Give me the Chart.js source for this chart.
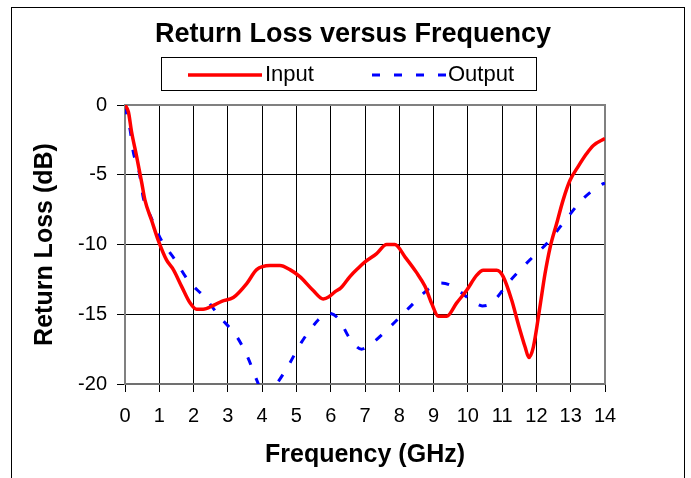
<!DOCTYPE html>
<html>
<head>
<meta charset="utf-8">
<script src="https://cdn.jsdelivr.net/npm/chart.js@4.4.0/dist/chart.umd.min.js"></script>
<style>
  html, body { margin: 0; padding: 0; background: #fff; }
  #wrap { width: 691px; height: 478px; }
</style>
</head>
<body>
<div id="wrap"><canvas id="rlChart" width="691" height="478"></canvas></div>
<script>
// Input return loss (red solid)
const freqIn = [0, 0.1, 0.19, 0.34, 0.49, 0.58, 0.78, 0.97, 1.21, 1.41, 1.65, 1.9, 2.09, 2.28, 2.58,
  2.82, 3.16, 3.55, 3.84, 4.23, 4.52, 4.81, 5.1, 5.49, 5.78, 5.95, 6.12, 6.3, 6.56, 6.8, 7.0, 7.34, 7.63,
  7.87, 8.17, 8.5, 8.75, 8.94, 9.14, 9.38, 9.67, 9.96, 10.26, 10.45, 10.84, 11.03, 11.28, 11.47, 11.67,
  11.78, 11.91, 12.1, 12.25, 12.4, 12.59, 12.78, 12.98, 13.22, 13.46, 13.66, 14.0];
const lossIn = [0, -0.5, -1.9, -3.7, -5.6, -6.8, -8.3, -9.7, -11.1, -11.8, -13.0, -14.2, -14.65, -14.65, -14.36,
  -14.07, -13.8, -12.8, -11.8, -11.5, -11.5, -11.8, -12.3, -13.3, -13.9, -13.75, -13.4, -13.1, -12.3, -11.7, -11.25, -10.65, -10.0,
  -10.0, -10.9, -12.0, -13.0, -14.2, -15.15, -15.15, -14.2, -13.3, -12.2, -11.85, -11.85, -12.3, -14.0, -15.7, -17.35,
  -18.1, -17.35, -14.5, -12.1, -10.2, -8.5, -6.8, -5.4, -4.4, -3.5, -2.9, -2.4];

// Output return loss (blue dashed)
const freqOut = [0, 0.15, 0.24, 0.42, 0.53, 0.75, 1.04, 1.46, 1.85, 2.33, 2.77, 3.26, 3.6, 3.84, 4.1, 4.42,
  4.76, 5.15, 5.64, 5.9, 6.22, 6.56, 6.9, 7.14, 7.73, 8.26, 8.85, 9.2, 9.48, 10.11, 10.42, 10.69, 11.23,
  11.81, 12.35, 12.83, 13.37, 13.9, 14.0];
const lossOut = [-0.1, -1.8, -3.35, -4.9, -6.6, -8.0, -9.6, -11.1, -12.6, -13.8, -15.2, -16.6, -18.2, -19.7, -21.0, -20.0,
  -18.7, -17.0, -15.4, -14.9, -15.3, -16.75, -17.5, -17.2, -15.9, -14.6, -13.2, -12.75, -12.9, -14.0, -14.4, -14.2, -12.6,
  -11.1, -9.8, -8.3, -6.7, -5.7, -5.6];

const xTickValues = [0, 1, 2, 3, 4, 5, 6, 7, 8, 9, 10, 11, 12, 13, 14];
const yTickValues = [0, -5, -10, -15, -20];

const seriesNames = ['Input', 'Output'];
const chartTitle = 'Return Loss versus Frequency';

const toPoints = (xs, ys) => xs.map((x, i) => ({ x: x, y: ys[i] }));

// frame, title, legend box and plot border
const decor = {
  id: 'decor',
  beforeDraw(chart) {
    const ctx = chart.ctx;
    ctx.save();
    ctx.fillStyle = '#fff';
    ctx.fillRect(0, 0, chart.width, chart.height);
    ctx.strokeStyle = '#000';
    ctx.lineWidth = 1;
    ctx.strokeRect(11.5, 7.5, 673, 520);
    ctx.restore();
  },
  beforeDatasetsDraw(chart) {
    const { ctx, chartArea: a } = chart;
    ctx.save();
    ctx.strokeStyle = '#808080';
    ctx.lineWidth = 2;
    ctx.beginPath();
    ctx.moveTo(a.left, a.top);
    ctx.lineTo(a.right, a.top);
    ctx.lineTo(a.right, a.bottom);
    ctx.stroke();
    ctx.restore();
  },
  afterDraw(chart) {
    const ctx = chart.ctx;
    ctx.save();
    ctx.fillStyle = '#000';
    ctx.textAlign = 'center';
    ctx.textBaseline = 'alphabetic';
    ctx.font = 'bold 27px "Liberation Sans", Arial, sans-serif';
    ctx.fillText(chartTitle, 353, 42);

    // legend
    ctx.strokeStyle = '#000';
    ctx.lineWidth = 1;
    ctx.strokeRect(161.5, 57.5, 375, 33);

    ctx.lineCap = 'butt';
    ctx.strokeStyle = '#ff0000';
    ctx.lineWidth = 3.5;
    ctx.beginPath();
    ctx.moveTo(188, 75);
    ctx.lineTo(262, 75);
    ctx.stroke();

    ctx.strokeStyle = '#0000ff';
    ctx.lineWidth = 3;
    ctx.setLineDash([8, 14]);
    ctx.beginPath();
    ctx.moveTo(372, 75);
    ctx.lineTo(446, 75);
    ctx.stroke();
    ctx.setLineDash([]);

    ctx.textAlign = 'left';
    ctx.font = '22px "Liberation Sans", Arial, sans-serif';
    ctx.fillText(seriesNames[0], 265, 81);
    ctx.fillText(seriesNames[1], 448, 81);
    ctx.restore();
  }
};

const canvas = document.getElementById('rlChart');
new Chart(canvas.getContext('2d'), {
  type: 'line',
  data: {
    datasets: [{
      label: seriesNames[0],
      data: toPoints(freqIn, lossIn),
      borderColor: '#ff0000',
      borderWidth: 3.5,
      pointRadius: 0,
      cubicInterpolationMode: 'monotone',
      fill: false
    }, {
      label: seriesNames[1],
      data: toPoints(freqOut, lossOut),
      borderColor: '#0000ff',
      borderWidth: 3,
      borderDash: [8, 14],
      pointRadius: 0,
      cubicInterpolationMode: 'monotone',
      fill: false
    }]
  },
  options: {
    responsive: false,
    animation: false,
    events: [],
    layout: { padding: { left: 30, right: 86, top: 105, bottom: 8 } },
    plugins: {
      legend: { display: false },
      title: { display: false },
      tooltip: { enabled: false }
    },
    scales: {
      x: {
        type: 'linear',
        min: 0,
        max: 14,
        afterBuildTicks: s => { s.ticks = xTickValues.map(v => ({ value: v })); },
        afterFit: s => { s.height = 86; s.paddingLeft = 0; s.paddingRight = 0; },
        grid: { color: '#000', lineWidth: 1, tickLength: 8, tickColor: '#000' },
        border: { color: '#707070', width: 2 },
        ticks: {
          color: '#000',
          padding: 12,
          maxRotation: 0,
          autoSkip: false,
          font: { family: '"Liberation Sans", Arial, sans-serif', size: 20 }
        },
        title: {
          display: true,
          text: 'Frequency (GHz)',
          color: '#000',
          padding: 0,
          font: { family: '"Liberation Sans", Arial, sans-serif', size: 25, weight: 'bold' }
        }
      },
      y: {
        type: 'linear',
        min: -20,
        max: 0,
        afterBuildTicks: s => { s.ticks = yTickValues.map(v => ({ value: v })); },
        afterFit: s => { s.width = 95; s.paddingTop = 0; s.paddingBottom = 0; },
        grid: { color: '#000', lineWidth: 1, tickLength: 8, tickColor: '#000' },
        border: { color: '#808080', width: 2 },
        ticks: {
          color: '#000',
          padding: 10,
          autoSkip: false,
          font: { family: '"Liberation Sans", Arial, sans-serif', size: 20 }
        },
        title: {
          display: true,
          text: 'Return Loss (dB)',
          color: '#000',
          padding: 0,
          font: { family: '"Liberation Sans", Arial, sans-serif', size: 25, weight: 'bold' }
        }
      }
    }
  },
  plugins: [decor]
});
</script>
</body>
</html>
